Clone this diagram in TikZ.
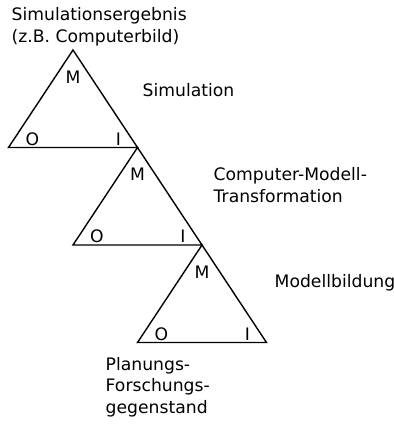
\documentclass[tikz,border=0pt]{standalone}
\usepackage{fontspec}
\setmainfont{DejaVu Sans}

\begin{document}
\begin{tikzpicture}[x=0.5pt, y=-0.5pt, line width=0.7pt,
        every node/.style={inner sep=0pt, font=\fontsize{8.6pt}{10.75pt}\selectfont},
        corner/.style={anchor=base},
        caption/.style={anchor=base west, align=left}]
        \useasboundingbox (0,0) rectangle (394,424);

        % Ecken der drei Dreiecke
        \coordinate (a1) at (73,50);
        \coordinate (o1) at (8.5,147.5);
        \coordinate (i1) at (137.5,147.5);
        \coordinate (a2) at (137.5,147.5);
        \coordinate (o2) at (73,245);
        \coordinate (i2) at (202,245);
        \coordinate (a3) at (202,245);
        \coordinate (o3) at (137.5,342.5);
        \coordinate (i3) at (266.5,342.5);

        \draw (o1) -- (a1) -- (i1) -- cycle;
        \draw (o2) -- (a2) -- (i2) -- cycle;
        \draw (o3) -- (a3) -- (i3) -- cycle;

        \node[corner] (m1) at (73,83) {M};
        \node[corner] (lo1) at (32.5,145) {O};
        \node[corner] (li1) at (118.5,145) {I};
        \node[corner] (m2) at (137.5,180.5) {M};
        \node[corner] (lo2) at (97,242.5) {O};
        \node[corner] (li2) at (183,242.5) {I};
        \node[corner] (m3) at (202,278) {M};
        \node[corner] (lo3) at (161.5,340) {O};
        \node[corner] (li3) at (247.5,340) {I};

        % base = Grundlinie der letzten Zeile
        \node[caption] (ergebnis) at (11,42) {Simulationsergebnis\\(z.B. Computerbild)};
        \node[caption] (simulation) at (142,96) {Simulation};
        \node[caption] (transformation) at (213,202) {Computer-Modell-\\Transformation};
        \node[caption] (modellbildung) at (274,287) {Modellbildung};
        \node[caption] (gegenstand) at (105,413) {Planungs-\\Forschungs-\\gegenstand};
    \end{tikzpicture}
\end{document}
